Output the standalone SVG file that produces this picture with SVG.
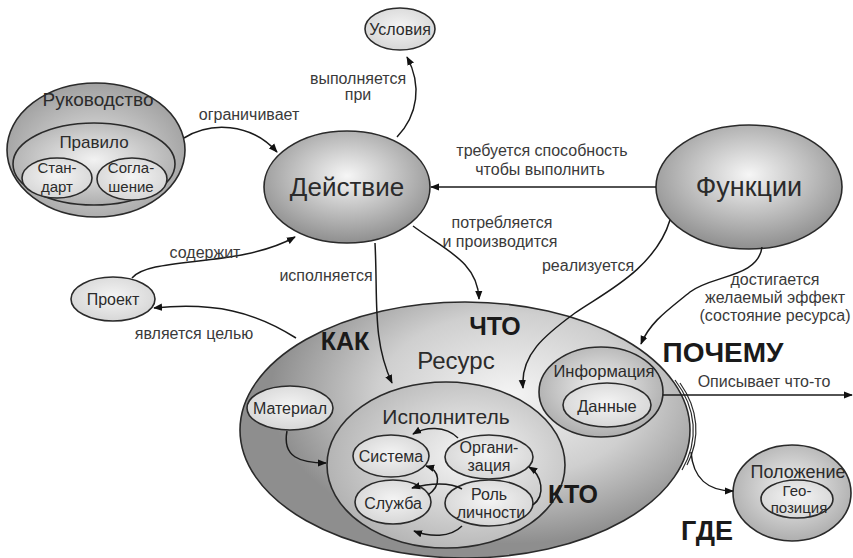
<svg xmlns="http://www.w3.org/2000/svg" width="853" height="558" viewBox="0 0 853 558">
<defs>
<radialGradient id="gBig" cx="0.5" cy="0.4" r="0.6">
<stop offset="0" stop-color="#f6f6f6"/>
<stop offset="1" stop-color="#8f8f8f"/>
</radialGradient>
<radialGradient id="gMid" cx="0.5" cy="0.45" r="0.6">
<stop offset="0" stop-color="#f2f2f2"/>
<stop offset="1" stop-color="#a8a8a8"/>
</radialGradient>
<radialGradient id="gSmall" cx="0.5" cy="0.45" r="0.6">
<stop offset="0" stop-color="#f4f4f4"/>
<stop offset="1" stop-color="#d4d4d4"/>
</radialGradient>
<radialGradient id="gRes" gradientUnits="userSpaceOnUse" cx="510" cy="395" r="240" gradientTransform="translate(510 395) scale(1 0.62) translate(-510 -395)">
<stop offset="0" stop-color="#f4f4f4"/>
<stop offset="0.55" stop-color="#cfcfcf"/>
<stop offset="1" stop-color="#8e8e8e"/>
</radialGradient>
<radialGradient id="gIsp" cx="0.6" cy="0.45" r="0.6">
<stop offset="0" stop-color="#f7f7f7"/>
<stop offset="1" stop-color="#b4b4b4"/>
</radialGradient>
<radialGradient id="gRuk" cx="0.5" cy="0.55" r="0.6">
<stop offset="0" stop-color="#e8e8e8"/>
<stop offset="1" stop-color="#9a9a9a"/>
</radialGradient>
<marker id="ah" viewBox="0 0 10 10" refX="9" refY="5" markerWidth="9" markerHeight="9" markerUnits="userSpaceOnUse" orient="auto">
<path d="M0,1 L10,5 L0,9 z" fill="#111"/>
</marker>
</defs>
<style>
.n{stroke:#2a2a2a;stroke-width:1.6}
.t{font-family:"Liberation Sans",Arial,sans-serif;fill:#2b2b2b;text-anchor:middle}
.lb{font-family:"Liberation Sans",Arial,sans-serif;font-size:16px;fill:#3a3a3a;text-anchor:middle}
.q{font-family:"Liberation Sans",Arial,sans-serif;font-weight:bold;fill:#1a1a1a;text-anchor:middle}
.c{fill:none;stroke:#1a1a1a;stroke-width:1.5;marker-end:url(#ah)}
</style>
<rect width="853" height="558" fill="#ffffff"/>

<g id="rukovodstvo">
<ellipse class="n" cx="96" cy="150" rx="89" ry="67" fill="url(#gRuk)"/>
<text class="t" x="98" y="106" font-size="19">Руководство</text>
</g>
<g id="pravilo">
<ellipse class="n" cx="94" cy="164" rx="81" ry="41" fill="url(#gMid)"/>
<text class="t" x="94" y="148" font-size="17">Правило</text>
</g>
<g id="standart">
<ellipse class="n" cx="57" cy="178" rx="35" ry="20" fill="url(#gSmall)"/>
<text class="t" x="57" y="173" font-size="15">Стан-</text>
<text class="t" x="57" y="192" font-size="15">дарт</text>
</g>
<g id="soglashenie">
<ellipse class="n" cx="132" cy="179" rx="35" ry="21" fill="url(#gSmall)"/>
<text class="t" x="131" y="173" font-size="15">Согла-</text>
<text class="t" x="131" y="192" font-size="15">шение</text>
</g>

<g id="usloviya">
<ellipse class="n" cx="400" cy="29" rx="35" ry="21" fill="url(#gSmall)"/>
<text class="t" x="400" y="35" font-size="16">Условия</text>
</g>

<g id="deystvie">
<ellipse class="n" cx="347" cy="187" rx="83" ry="56" fill="url(#gBig)"/>
<text class="t" x="347" y="196" font-size="26">Действие</text>
</g>

<g id="funktsii">
<ellipse class="n" cx="749" cy="187" rx="93" ry="62" fill="url(#gBig)"/>
<text class="t" x="749" y="196" font-size="27">Функции</text>
</g>

<g id="proekt">
<ellipse class="n" cx="113" cy="299" rx="42" ry="22" fill="url(#gSmall)"/>
<text class="t" x="113" y="305" font-size="16">Проект</text>
</g>

<g id="resurs">
<ellipse class="n" cx="465" cy="430" rx="225" ry="128" fill="url(#gRes)"/>
<path d="M675,380 A228,128 0 0 1 682,470" fill="none" stroke="#2a2a2a" stroke-width="1.2"/>
<path d="M680,383 A231,128 0 0 1 687,465" fill="none" stroke="#2a2a2a" stroke-width="1.2"/>
<text class="t" x="456" y="369" font-size="24">Ресурс</text>
</g>

<g id="material">
<ellipse class="n" cx="290" cy="408" rx="43" ry="22" fill="url(#gSmall)"/>
<text class="t" x="290" y="414" font-size="16">Материал</text>
</g>

<g id="ispolnitel">
<ellipse class="n" cx="446" cy="465" rx="119" ry="83" fill="url(#gIsp)"/>
<text class="t" x="446" y="424" font-size="21">Исполнитель</text>
</g>
<g id="sistema">
<ellipse class="n" cx="391" cy="456" rx="38" ry="21" fill="url(#gSmall)"/>
<text class="t" x="391" y="462" font-size="16">Система</text>
</g>
<g id="organizatsiya">
<ellipse class="n" cx="489" cy="457" rx="44" ry="22" fill="url(#gSmall)"/>
<text class="t" x="489" y="453" font-size="16">Органи-</text>
<text class="t" x="489" y="471" font-size="16">зация</text>
</g>
<g id="sluzhba">
<ellipse class="n" cx="393" cy="502" rx="38" ry="22" fill="url(#gSmall)"/>
<text class="t" x="393" y="509" font-size="16">Служба</text>
</g>
<g id="rol">
<ellipse class="n" cx="489" cy="503" rx="44" ry="23" fill="url(#gSmall)"/>
<text class="t" x="489" y="500" font-size="16">Роль</text>
<text class="t" x="491" y="518" font-size="16">личности</text>
</g>

<g id="informatsiya">
<ellipse class="n" cx="601" cy="392" rx="62" ry="45" fill="url(#gMid)"/>
<text class="t" x="604" y="377" font-size="16.5">Информация</text>
</g>
<g id="dannye">
<ellipse class="n" cx="607" cy="405" rx="44" ry="22" fill="url(#gSmall)"/>
<text class="t" x="607" y="412" font-size="16.5">Данные</text>
</g>

<g id="polozhenie">
<ellipse class="n" cx="792" cy="493" rx="59" ry="48" fill="url(#gMid)"/>
<text class="t" x="798" y="478" font-size="18">Положение</text>
</g>
<g id="geopozitsiya">
<ellipse class="n" cx="797" cy="499" rx="36" ry="19" fill="url(#gSmall)"/>
<text class="t" x="797" y="496" font-size="15">Гео-</text>
<text class="t" x="799" y="513" font-size="15">позиция</text>
</g>

<g id="connectors">
<path class="c" d="M184,138 C210,122 250,122 277,152"/>
<path class="c" d="M397,137 C418,115 422,85 407,57"/>
<path class="c" d="M656,187 L431,187"/>
<path class="c" d="M413,226 C445,250 478,262 479,299"/>
<path class="c" d="M375,243 C378,300 372,340 392,383"/>
<path class="c" d="M132,278 C150,256 240,268 295,237"/>
<path class="c" d="M296,338 C255,312 215,302 154,308"/>
<path class="c" d="M670,220 C655,270 600,295 575,313 C545,335 520,355 523,388"/>
<path class="c" d="M762,247 C758,278 712,275 690,292 C668,310 650,322 641,344"/>
<path class="c" d="M663,395 L852,395"/>
<path class="c" d="M691,452 C693,478 708,491 733,491"/>
<path class="c" d="M287,431 C282,457 300,463 326,463"/>
<path class="c" d="M458,438 C445,425 425,427 413,434"/>
<path class="c" d="M428,495 C442,485 440,470 426,466"/>
<path class="c" d="M462,489 C450,482 430,483 412,488"/>
<path class="c" d="M533,505 C546,495 542,475 529,467"/>
<path class="c" d="M462,526 C450,538 430,537 414,531"/>
</g>

<g id="labels">
<text class="lb" x="249" y="120">ограничивает</text>
<text class="lb" x="358" y="84">выполняется</text>
<text class="lb" x="358" y="100">при</text>
<text class="lb" x="542" y="156">требуется способность</text>
<text class="lb" x="540" y="175">чтобы выполнить</text>
<text class="lb" x="502" y="228">потребляется</text>
<text class="lb" x="500" y="247">и производится</text>
<text class="lb" x="326" y="281">исполняется</text>
<text class="lb" x="205" y="258">содержит</text>
<text class="lb" x="194" y="339">является целью</text>
<text class="lb" x="588" y="271">реализуется</text>
<text class="lb" x="775" y="285">достигается</text>
<text class="lb" x="775" y="303">желаемый эффект</text>
<text class="lb" x="775" y="321">(состояние ресурса)</text>
<text class="lb" x="764" y="387">Описывает что-то</text>
<text class="q" x="345" y="350" font-size="25">КАК</text>
<text class="q" x="495" y="335" font-size="25">ЧТО</text>
<text class="q" x="723" y="362" font-size="28">ПОЧЕМУ</text>
<text class="q" x="573" y="503" font-size="25">КТО</text>
<text class="q" x="707" y="540" font-size="27">ГДЕ</text>
</g>
</svg>
